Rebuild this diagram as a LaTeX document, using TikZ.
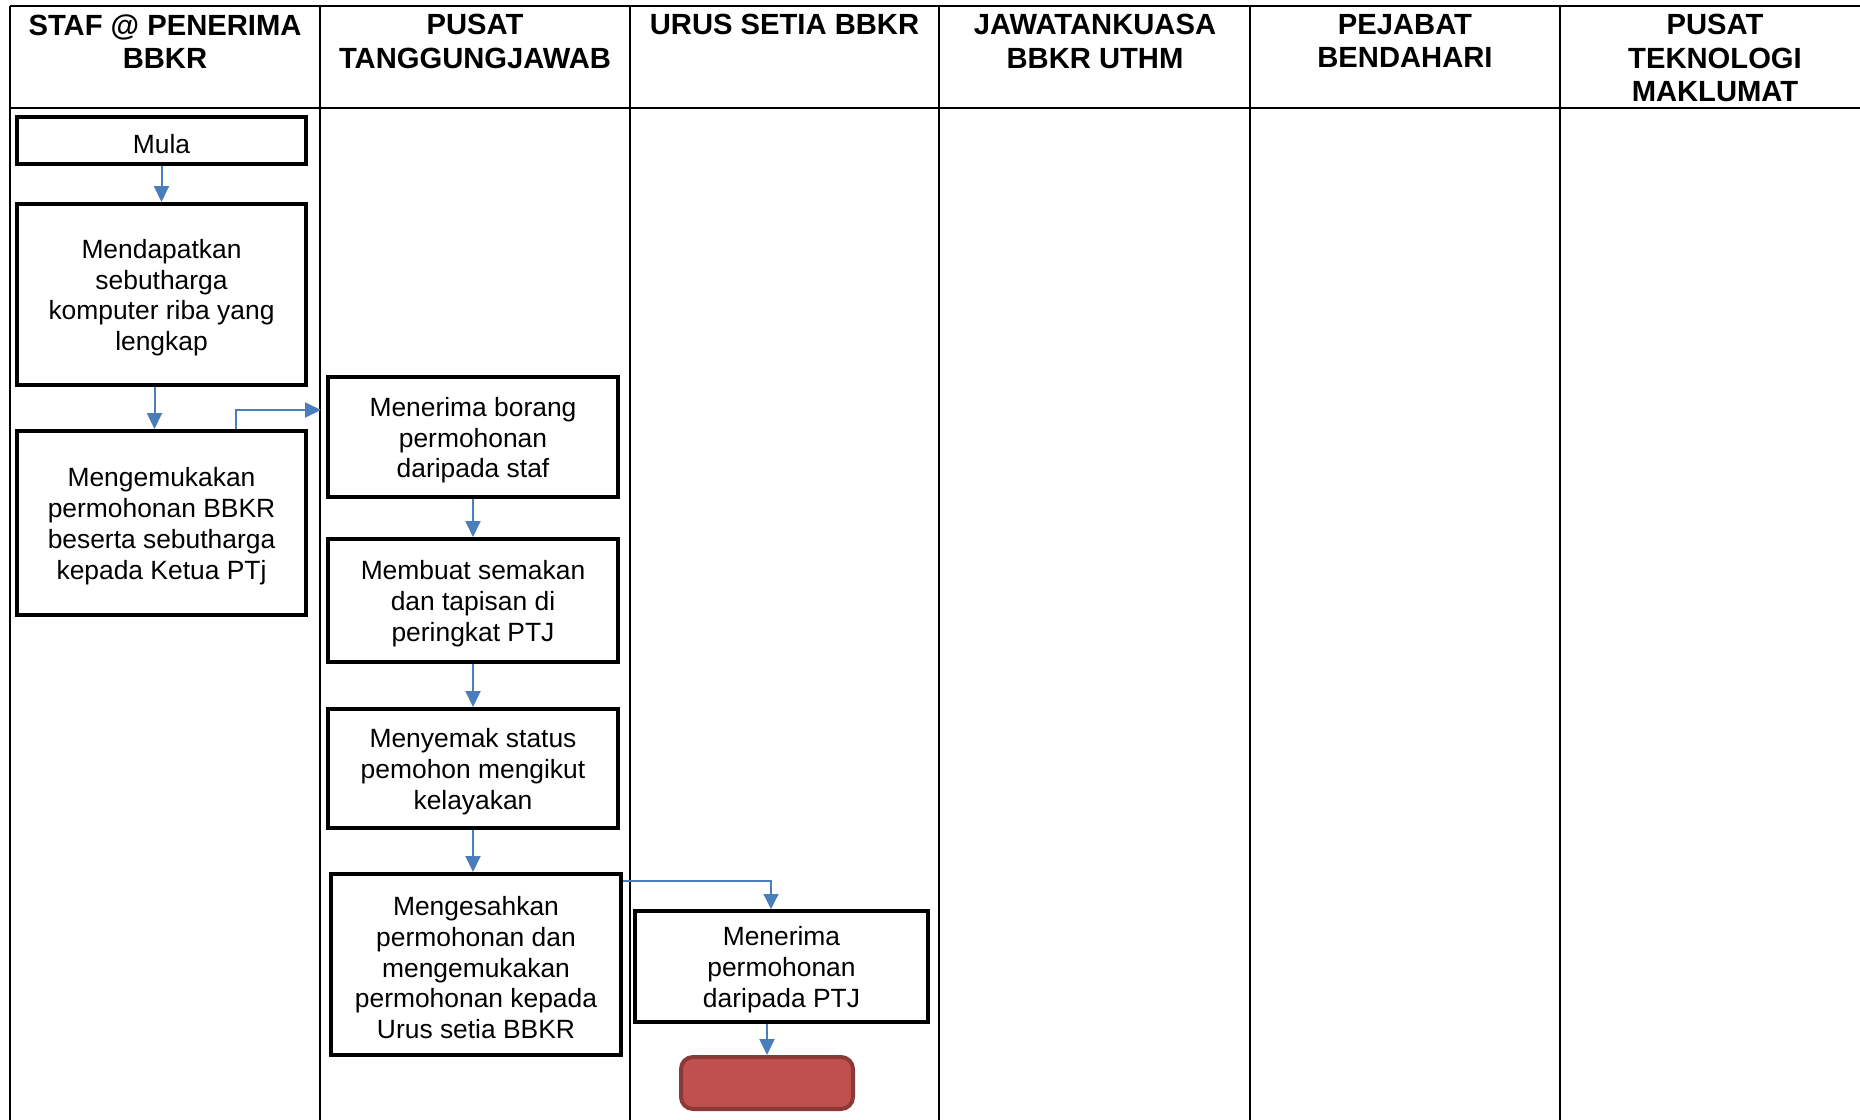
\documentclass[tikz,border=0pt]{standalone}
\usepackage{fontspec}
\setmainfont{Liberation Sans}
\usetikzlibrary{arrows.meta}
\definecolor{arrblue}{RGB}{74,126,187}
\definecolor{endfill}{RGB}{192,80,77}
\definecolor{enddraw}{RGB}{140,56,54}
\newcommand{\drop}{\rule{0pt}{12.8pt}}
\tikzset{
  gridline/.style={line width=1.1pt, black},
  headtext/.style={anchor=north, inner sep=0pt, align=center, font=\fontsize{14.6}{16.75}\selectfont\bfseries},
  stepbox/.style={draw, line width=2pt, inner sep=0pt, align=center, font=\fontsize{13.2}{15.4}\selectfont},
  endbox/.style={draw=enddraw, fill=endfill, line width=2pt, rounded corners=6pt},
  arr/.style={draw=arrblue, line width=1pt, -{Triangle[width=7.5pt,length=8pt]}},
  thinarr/.style={draw=arrblue, line width=0.6pt, -{Triangle[width=7.5pt,length=7.5pt]}}
}
\begin{document}
\begin{tikzpicture}[x=0.5pt,y=-0.5pt]
\useasboundingbox (0,0) rectangle (1860,1120);
% table grid
\draw[gridline] (10,6) -- (1860,6);
\draw[gridline] (10,108) -- (1860,108);
\foreach \xx in {10,320,630,939,1250,1560}
  \draw[gridline] (\xx,6) -- (\xx,1120);
% headers
\node[headtext] (h1) at (165,14) {STAF @ PENERIMA\\BBKR};
\node[headtext] (h2) at (475,14) {PUSAT\\TANGGUNGJAWAB};
\node[headtext] (h3) at (784.5,14) {URUS SETIA BBKR};
\node[headtext] (h4) at (1095,14) {JAWATANKUASA\\BBKR UTHM};
\node[headtext] (h5) at (1405,14) {PEJABAT\\BENDAHARI};
\node[headtext] (h6) at (1715,14) {PUSAT\\TEKNOLOGI\\MAKLUMAT};
% steps
\node[stepbox, minimum width=144.5pt, minimum height=23.5pt] (n1) at (161.5,140.5) {\drop Mula};
\node[stepbox, minimum width=144.5pt, minimum height=90.5pt] (n2) at (161.5,294.5) {\drop Mendapatkan\\sebutharga\\komputer riba yang\\lengkap};
\node[stepbox, minimum width=144.5pt, minimum height=92pt] (n3) at (161.5,523) {\drop Mengemukakan\\permohonan BBKR\\beserta sebutharga\\kepada Ketua PTj};
\node[stepbox, minimum width=145pt, minimum height=60pt] (n4) at (473,437) {\drop Menerima borang\\permohonan\\daripada staf};
\node[stepbox, minimum width=145pt, minimum height=61.5pt] (n5) at (473,600.5) {\drop Membuat semakan\\dan tapisan di\\peringkat PTJ};
\node[stepbox, minimum width=145pt, minimum height=59.5pt] (n6) at (473,768.5) {\drop Menyemak status\\pemohon mengikut\\kelayakan};
\node[stepbox, minimum width=145pt, minimum height=90.5pt] (n7) at (476,964.5) {\drop Mengesahkan\\permohonan dan\\mengemukakan\\permohonan kepada\\Urus setia BBKR};
\node[stepbox, minimum width=146.5pt, minimum height=55.5pt] (n8) at (781.5,966.5) {\drop Menerima\\permohonan\\daripada PTJ};
\node[endbox, minimum width=86pt, minimum height=26pt] (n9) at (767,1083) {};
% helper coordinates
\coordinate (c3) at (236,410);
\coordinate (c4) at (321,410);
% connectors
\draw[arr] (n1.south) -- (n1.south |- n2.north);
\draw[arr] ([xshift=-3.5pt]n2.south) -- ([xshift=-3.5pt]n2.south |- n3.north);
\draw[arr] (n3.north -| c3) -- (c3) -- (c4);
\draw[arr] (n4.south) -- (n4.south |- n5.north);
\draw[arr] (n5.south) -- (n5.south |- n6.north);
\draw[arr] (n6.south) -- (n6.south |- n7.north);
\draw[thinarr] ([yshift=-4.5pt]n7.north east) -| ([xshift=-5.25pt]n8.north);
\draw[arr] (n9.north |- n8.south) -- (n9.north);
\end{tikzpicture}
\end{document}
